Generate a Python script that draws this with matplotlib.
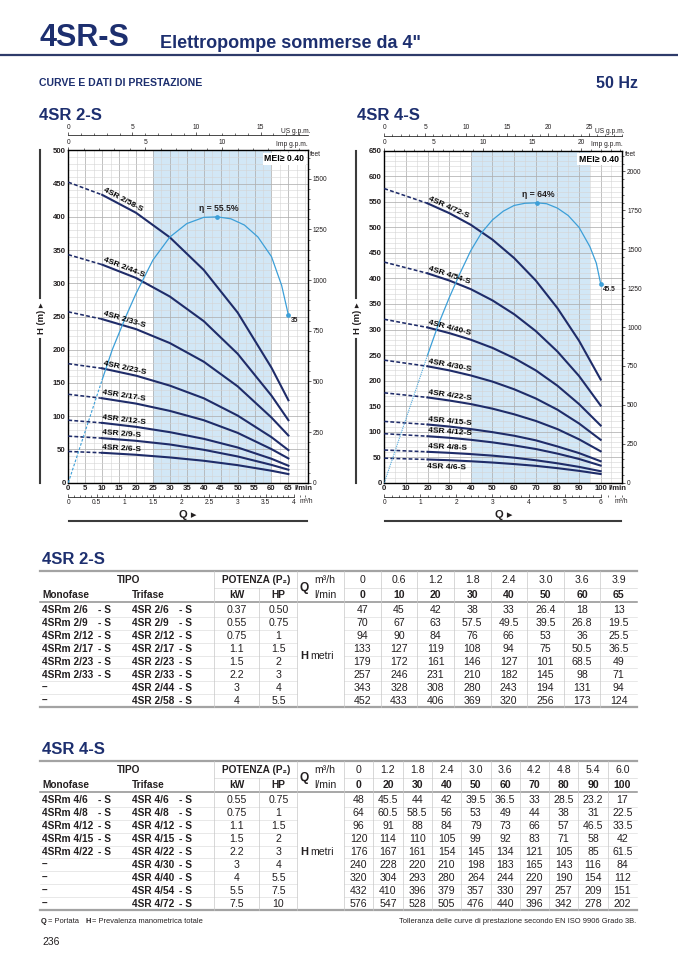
import numpy as np
import matplotlib
matplotlib.use("Agg")
import matplotlib.pyplot as plt
from matplotlib.ticker import MultipleLocator

plt.rcParams["font.family"] = ["Liberation Sans Narrow", "Liberation Sans", "DejaVu Sans"]

# ---- 4SR 2-S data (table + curves)
q2_lmin = [0, 10, 20, 30, 40, 50, 60, 65]
q2_m3h = ["0", "0.6", "1.2", "1.8", "2.4", "3.0", "3.6", "3.9"]
mono2 = ["4SRm 2/6", "4SRm 2/9", "4SRm 2/12", "4SRm 2/17", "4SRm 2/23", "4SRm 2/33", "–", "–"]
tri2 = ["4SR 2/6", "4SR 2/9", "4SR 2/12", "4SR 2/17", "4SR 2/23", "4SR 2/33", "4SR 2/44", "4SR 2/58"]
kw2 = ["0.37", "0.55", "0.75", "1.1", "1.5", "2.2", "3", "4"]
hp2 = ["0.50", "0.75", "1", "1.5", "2", "3", "4", "5.5"]
h2 = [
    [47, 45, 42, 38, 33, 26.4, 18, 13],
    [70, 67, 63, 57.5, 49.5, 39.5, 26.8, 19.5],
    [94, 90, 84, 76, 66, 53, 36, 25.5],
    [133, 127, 119, 108, 94, 75, 50.5, 36.5],
    [179, 172, 161, 146, 127, 101, 68.5, 49],
    [257, 246, 231, 210, 182, 145, 98, 71],
    [343, 328, 308, 280, 243, 194, 131, 94],
    [452, 433, 406, 369, 320, 256, 173, 124],
]
# efficiency curve (%), top of H axis = eta2_top %
eta2_q = [0, 10, 13, 17, 20, 25, 30, 35, 40, 44, 48, 52, 56, 60, 63, 65]
eta2_v = [0, 21.5, 27.8, 34.7, 39.5, 46.5, 51.3, 54.1, 55.4, 55.5, 55.1, 53.8, 51.3, 47.2, 41.2, 35.0]
eta2_top = 69.4

# ---- 4SR 4-S data
q4_lmin = [0, 20, 30, 40, 50, 60, 70, 80, 90, 100]
q4_m3h = ["0", "1.2", "1.8", "2.4", "3.0", "3.6", "4.2", "4.8", "5.4", "6.0"]
mono4 = ["4SRm 4/6", "4SRm 4/8", "4SRm 4/12", "4SRm 4/15", "4SRm 4/22", "–", "–", "–", "–"]
tri4 = ["4SR 4/6", "4SR 4/8", "4SR 4/12", "4SR 4/15", "4SR 4/22", "4SR 4/30", "4SR 4/40", "4SR 4/54", "4SR 4/72"]
kw4 = ["0.55", "0.75", "1.1", "1.5", "2.2", "3", "4", "5.5", "7.5"]
hp4 = ["0.75", "1", "1.5", "2", "3", "4", "5.5", "7.5", "10"]
h4 = [
    [48, 45.5, 44, 42, 39.5, 36.5, 33, 28.5, 23.2, 17],
    [64, 60.5, 58.5, 56, 53, 49, 44, 38, 31, 22.5],
    [96, 91, 88, 84, 79, 73, 66, 57, 46.5, 33.5],
    [120, 114, 110, 105, 99, 92, 83, 71, 58, 42],
    [176, 167, 161, 154, 145, 134, 121, 105, 85, 61.5],
    [240, 228, 220, 210, 198, 183, 165, 143, 116, 84],
    [320, 304, 293, 280, 264, 244, 220, 190, 154, 112],
    [432, 410, 396, 379, 357, 330, 297, 257, 209, 151],
    [576, 547, 528, 505, 476, 440, 396, 342, 278, 202],
]
eta4_q = [0, 20, 25, 30, 35, 40, 45, 50, 55, 60, 65, 70.5, 75, 80, 85, 90, 95, 98, 100]
eta4_v = [0, 29.2, 36.2, 42.3, 47.9, 53.1, 57.2, 60.1, 62.1, 63.4, 63.9, 64.0, 63.8, 62.8, 61.1, 58.4, 54.0, 50.2, 45.5]
eta4_top = 75.9

NAVY = "#1d2f6f"
CURVE = "#1f2c69"
ETA = "#3c9fd8"
SHADE = "#d2e7f6"
TXT = "#231f20"
US = 0.264172   # US gpm per l/min
IMP = 0.219969  # Imp gpm per l/min
FT = 3.28084

W, H = 678, 959
fig = plt.figure(figsize=(W / 100, H / 100), dpi=100)
page = fig.add_axes([0, 0, 1, 1])
page.set_xlim(0, W)
page.set_ylim(H, 0)
page.axis("off")


def px_axes(x0, y0, x1, y1):
    return fig.add_axes([x0 / W, 1 - y1 / H, (x1 - x0) / W, (y1 - y0) / H])


def chart(box, q, heads, names, eta_q, eta_v, eta_top, shade, xmax, ymax, xstep,
          m3h_step, m3h_max, us_ticks, imp_ticks, ft_max, below, eta_ls, lx):
    x0, y0, x1, y1 = box
    ah = y1 - y0
    ax = px_axes(*box)
    ax.set_xlim(0, xmax)
    ax.set_ylim(0, ymax)
    ax.axvspan(shade[0], shade[1], color=SHADE, lw=0, zorder=0)
    ax.set_axisbelow(True)
    ax.set_xticks(range(0, q[-1] + 1, xstep), labels=[str(v) for v in range(0, q[-1] + 1, xstep)],
                  fontsize=5.6, fontweight="bold")
    ax.set_yticks(range(0, ymax + 1, 50), labels=[str(v) for v in range(0, ymax + 1, 50)],
                  fontsize=5.6, fontweight="bold")
    ax.xaxis.set_minor_locator(MultipleLocator(xstep / 2))
    ax.yaxis.set_minor_locator(MultipleLocator(10))
    ax.grid(which="major", color="#b0b0b0", lw=0.55)
    ax.grid(which="minor", color="#d4d4d4", lw=0.4)
    ax.tick_params(which="both", length=0, pad=2, colors=TXT)
    for s in ax.spines.values():
        s.set_linewidth(1.0)
        s.set_color("black")

    # pump curves: dashed up to first rated point, solid after
    for h, name in zip(heads, names):
        ax.plot(q[:2], h[:2], color=CURVE, lw=1.15, ls=(0, (2.4, 1.4)), zorder=3)
        ax.plot(q[1:], h[1:], color=CURVE, lw=1.5, zorder=3, solid_joinstyle="round")
        p0 = ax.transData.transform((q[1], h[1]))
        p1 = ax.transData.transform((q[2], h[2]))
        ang = np.degrees(np.arctan2(p1[1] - p0[1], p1[0] - p0[0]))
        dn = name in below
        ax.annotate(name + "-S", (q[1], h[1]), xytext=(0, -2.5 if dn else 1.3),
                    textcoords="offset points", rotation=ang, rotation_mode="anchor",
                    ha="left", va="top" if dn else "bottom", fontsize=6.0,
                    fontweight="bold", color="black", zorder=4)

    # efficiency curve
    ev = np.array(eta_v) * ymax / eta_top
    ax.plot(eta_q[:2], ev[:2], color=ETA, lw=0.8, ls=eta_ls, zorder=3)
    ax.plot(eta_q[1:], ev[1:], color=ETA, lw=0.9, zorder=3)
    k = int(np.argmax(eta_v))
    ax.plot([eta_q[k], eta_q[-1]], [ev[k], ev[-1]], "o", ms=2.4, color=ETA, zorder=4)
    ax.annotate("η = %g%%" % eta_v[k], (eta_q[k], ev[k]), xytext=(1, 2.5),
                textcoords="offset points", ha="center", va="bottom", fontsize=6.2,
                fontweight="bold", color=TXT, zorder=4)
    ax.annotate("%g" % eta_v[-1], (eta_q[-1], ev[-1]), xytext=(1.5, -1.5),
                textcoords="offset points", ha="left", va="top", fontsize=4.8,
                fontweight="bold", color=TXT, zorder=4)

    ax.text(0.985, 0.988, "MEI≥ 0.40", transform=ax.transAxes, ha="right", va="top",
            fontsize=6.3, fontweight="bold", color="black", zorder=6,
            bbox=dict(fc="white", ec="none", pad=1.0))

    # top scales: Imp gpm on the frame, US gpm a bit higher
    imp = ax.secondary_xaxis("top", functions=(lambda x: x * IMP, lambda x: x / IMP))
    imp.set_xticks(imp_ticks, labels=[str(v) for v in imp_ticks], fontsize=4.8)
    imp.xaxis.set_minor_locator(MultipleLocator(1))
    imp.tick_params(which="major", direction="out", length=2.5, width=0.5, pad=0.6, colors=TXT)
    imp.tick_params(which="minor", direction="out", length=1.3, width=0.4)
    for s in imp.spines.values():
        s.set_visible(False)

    us = ax.secondary_xaxis(1 + 15 / ah, functions=(lambda x: x * US, lambda x: x / US))
    us.set_xticks(us_ticks, labels=[str(v) for v in us_ticks], fontsize=4.8)
    us.xaxis.set_minor_locator(MultipleLocator(1))
    us.tick_params(which="major", direction="out", length=2.5, width=0.5, pad=0.6, colors=TXT)
    us.tick_params(which="minor", direction="out", length=1.3, width=0.4)
    for s in us.spines.values():
        s.set_linewidth(0.5)

    # bottom m3/h scale
    m3 = ax.secondary_xaxis(-14.5 / ah, functions=(lambda x: x * 0.06, lambda x: x / 0.06))
    mt = np.arange(0, m3h_max + 1e-9, m3h_step)
    m3.set_xticks(mt, labels=["%g" % v for v in mt], fontsize=4.8)
    m3.xaxis.set_minor_locator(MultipleLocator(0.1 if m3h_step < 1 else 0.2))
    m3.tick_params(which="major", direction="in", length=2.5, width=0.5, pad=1.2, colors=TXT)
    m3.tick_params(which="minor", direction="in", length=1.3, width=0.4)
    for s in m3.spines.values():
        s.set_linewidth(0.5)
        s.set_bounds(0, m3h_max)

    # right scale in feet
    ft = ax.secondary_yaxis("right", functions=(lambda m: m * FT, lambda f: f / FT))
    ft.set_yticks(range(0, ft_max + 1, 250), labels=[str(v) for v in range(0, ft_max + 1, 250)],
                  fontsize=4.8)
    ft.yaxis.set_minor_locator(MultipleLocator(50))
    ft.tick_params(which="major", direction="out", length=2.5, width=0.5, pad=1, colors=TXT)
    ft.tick_params(which="minor", direction="out", length=1.3, width=0.4)
    for s in ft.spines.values():
        s.set_visible(False)

    # unit labels and frame decorations
    small = dict(fontsize=4.8, color=TXT)
    page.text(x1 + 2.5, 131.5, "US g.p.m.", ha="right", va="center", **small)
    page.text(x1 + 0.5, 144.5, "Imp g.p.m.", ha="right", va="center", **small)
    page.text(x1 + 2.5, 154, "feet", ha="left", va="center", **small)
    page.text(x1 + 4.5, 488.5, "l/min", ha="right", va="center", fontsize=5.6,
              fontweight="bold", color=TXT)
    page.text(x1 + 5.5, 501.5, "m³/h", ha="right", va="center", **small)
    page.text((x0 + x1) / 2, 514.5, "Q ▸", ha="center", va="center", fontsize=8,
              fontweight="bold", color=TXT)
    page.plot([x0 + 1, x1 - 1], [520.7, 520.7], color="#3b3b3b", lw=1.5)
    page.plot([lx, lx], [y0, 298], color="#3b3b3b", lw=1.5)
    page.plot([lx, lx], [339, y1], color="#3b3b3b", lw=1.5)
    page.text(lx + 2, 318, "H (m) ▸", ha="center", va="center", rotation=90, fontsize=6.8,
              fontweight="bold", color=TXT)
    return ax


chart((68.3, 150.3, 307.7, 482.7), q2_lmin, h2, tri2, eta2_q, eta2_v, eta2_top,
      (25, 60), 70.7, 500, 5, 0.5, 4.0, [0, 5, 10, 15], [0, 5, 10], 1500, [],
      (0, (2.4, 1.5)), 40)
chart((384.3, 150.8, 622.3, 482.7), q4_lmin, h4, tri4, eta4_q, eta4_v, eta4_top,
      (40, 95), 110, 650, 10, 1.0, 6.0, [0, 5, 10, 15, 20, 25], [0, 5, 10, 15, 20], 2000,
      ["4SR 4/6"], (0, (0.9, 1.0)), 355.5)


def table(top, title, mono, tri, kw, hp, q_m3h, q_lmin, heads):
    n = len(q_lmin)
    xl, xr = 40, 637
    v0 = 344
    cw = (xr - v0) / n
    cx = [v0 + cw * (i + 0.5) for i in range(n)]
    yh1, yh2 = top + 9.3, top + 24
    yhr = top + 31
    ys = [top + 39.6 + 12.92 * i for i in range(len(heads))]
    ybot = ys[-1] + 6.3
    page.text(42, top - 11, title, ha="left", va="center", fontsize=12, fontweight="bold", color=NAVY)

    page.plot([xl, xr], [top, top], color="#a3a3a3", lw=1.6)
    page.plot([xl, xr], [yhr, yhr], color="#8f8f8f", lw=1.1)
    page.plot([xl, xr], [ybot, ybot], color="#a3a3a3", lw=1.6)
    ymid_h = (yh1 + yh2) / 2
    page.plot([214, 297], [ymid_h + 1, ymid_h + 1], color="#d0d0d0", lw=0.4)
    page.plot([v0, xr], [ymid_h + 1, ymid_h + 1], color="#d0d0d0", lw=0.4)
    for i in range(len(ys) - 1):
        ym = (ys[i] + ys[i + 1]) / 2
        page.plot([xl, 297], [ym, ym], color="#d6d6d6", lw=0.4)
        page.plot([v0, xr], [ym, ym], color="#d6d6d6", lw=0.4)
    for xv in [214, 297, v0] + [v0 + cw * i for i in range(1, n)]:
        page.plot([xv, xv], [top, ybot], color="#c8c8c8", lw=0.5)
    page.plot([259, 259], [ymid_h + 1, ybot], color="#c8c8c8", lw=0.5)

    bold = dict(fontsize=7.3, fontweight="bold", color=TXT, va="center")
    reg = dict(fontsize=7.6, color=TXT, va="center")
    page.text(129, yh1, "TIPO", ha="center", **bold)
    page.text(256, yh1, "POTENZA (P₂)", ha="center", **bold)
    page.text(42, yh2, "Monofase", ha="left", **bold)
    page.text(132, yh2, "Trifase", ha="left", **bold)
    page.text(237, yh2, "kW", ha="center", **bold)
    page.text(278.5, yh2, "HP", ha="center", **bold)
    page.text(300, ymid_h + 1, "Q", ha="left", fontsize=8.6, fontweight="bold", color=TXT, va="center")
    page.text(325, yh1, "m³/h", ha="center", **reg)
    page.text(325, yh2, "l/min", ha="center", **reg)
    for x, a, b in zip(cx, q_m3h, q_lmin):
        page.text(x, yh1, a, ha="center", **reg)
        page.text(x, yh2, str(b), ha="center", fontsize=7.6, fontweight="bold", color=TXT, va="center")

    for y, m, t, k, p, row in zip(ys, mono, tri, kw, hp, heads):
        page.text(42, y, m, ha="left", **bold)
        if m != "–":
            page.text(111, y, "- S", ha="right", **bold)
        page.text(132, y, t, ha="left", **bold)
        page.text(192, y, "- S", ha="right", **bold)
        page.text(237, y, k, ha="center", **reg)
        page.text(278.5, y, p, ha="center", **reg)
        for x, v in zip(cx, row):
            page.text(x, y, "%g" % v, ha="center", **reg)
    ym = (ys[0] + ys[-1]) / 2
    page.text(300.5, ym, "H", ha="left", fontsize=8, fontweight="bold", color=TXT, va="center")
    page.text(310.5, ym, "metri", ha="left", **reg)


table(570.7, "4SR 2-S", mono2, tri2, kw2, hp2, q2_m3h, q2_lmin, h2)
table(760.7, "4SR 4-S", mono4, tri4, kw4, hp4, q4_m3h, q4_lmin, h4)

# page header and notes
page.text(39, 38, "4SR-S", ha="left", va="center", fontsize=22, fontweight="bold", color=NAVY)
page.text(160, 43, "Elettropompe sommerse da 4\"", ha="left", va="center", fontsize=13,
          fontweight="bold", color=NAVY)
page.plot([0, W], [55, 55], color="#2e3b6a", lw=1.6)
page.text(39, 83.5, "CURVE E DATI DI PRESTAZIONE", ha="left", va="center", fontsize=7.6,
          fontweight="bold", color=NAVY)
page.text(638, 83.5, "50 Hz", ha="right", va="center", fontsize=11.5, fontweight="bold", color=NAVY)
page.text(39, 115, "4SR 2-S", ha="left", va="center", fontsize=12, fontweight="bold", color=NAVY)
page.text(357, 115, "4SR 4-S", ha="left", va="center", fontsize=12, fontweight="bold", color=NAVY)

note = dict(fontsize=5.4, color=TXT, va="center")
page.text(41, 921.7, "Q", ha="left", fontweight="bold", **note)
page.text(48, 921.7, "= Portata", ha="left", **note)
page.text(85, 921.7, "H", ha="left", fontweight="bold", **note)
page.text(92, 921.7, "= Prevalenza manometrica totale", ha="left", **note)
page.text(636, 921.7, "Tolleranza delle curve di prestazione secondo EN ISO 9906 Grado 3B.",
          ha="right", **note)
page.text(42, 941.7, "236", ha="left", va="center", fontsize=7.5, color=TXT)

fig.savefig("out.png", dpi=100)
plt.close(fig)
